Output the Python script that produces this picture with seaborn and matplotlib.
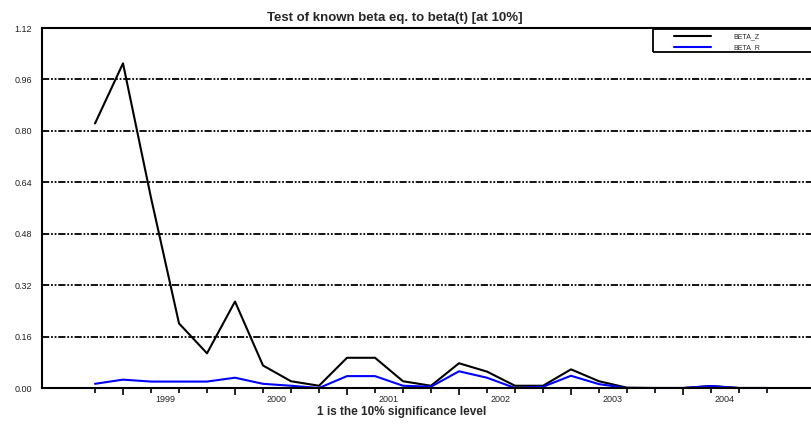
import numpy as np
import pandas as pd
import matplotlib
matplotlib.use("Agg")
import matplotlib.pyplot as plt
import seaborn as sns
from matplotlib.patches import Rectangle
from matplotlib.ticker import FixedLocator, FormatStrFormatter

# quarterly observations, 1998Q4 .. 2004Q4
quarters = ["1998Q4"] + [f"{y}Q{q}" for y in range(1999, 2005) for q in range(1, 5)]
years = ["1999", "2000", "2001", "2002", "2003", "2004"]

beta_z = [0.823, 1.010, 0.592, 0.201, 0.108, 0.269, 0.070, 0.021, 0.007,
          0.094, 0.094, 0.021, 0.007, 0.077, 0.051, 0.007, 0.007, 0.058,
          0.021, 0.001, 0.000, 0.000, 0.006, 0.000, 0.000]
beta_r = [0.013, 0.026, 0.020, 0.020, 0.020, 0.032, 0.013, 0.007, 0.000,
          0.037, 0.037, 0.007, 0.004, 0.052, 0.032, 0.000, 0.004, 0.038,
          0.012, 0.000, 0.000, 0.000, 0.006, 0.000, 0.000]

yticks = [0.00, 0.16, 0.32, 0.48, 0.64, 0.80, 0.96, 1.12]

df = pd.DataFrame({"quarter": quarters, "BETA_Z": beta_z, "BETA_R": beta_r})
df["t"] = np.arange(len(df))
long_df = df.melt(id_vars=["quarter", "t"], value_vars=["BETA_Z", "BETA_R"],
                  var_name="series", value_name="value")

sns.set_theme(style="white")
plt.rcParams["font.family"] = ["Liberation Sans", "DejaVu Sans"]

W, H = 811, 424
fig = plt.figure(figsize=(W / 100, H / 100), dpi=100)
ax = fig.add_axes([42 / W, (H - 388) / H, (815 - 42) / W, 360 / H])

sns.lineplot(data=long_df, x="t", y="value", hue="series",
             palette={"BETA_Z": "black", "BETA_R": "#0000ff"},
             linewidth=1.5, ax=ax, legend=False)

ax.set_xlim(-53 / 28, 720 / 28)
ax.set_ylim(0, 1.12)

# horizontal dash-dot-dot grid
ax.yaxis.set_major_locator(FixedLocator(yticks))
ax.yaxis.set_major_formatter(FormatStrFormatter("%.2f"))
for v in yticks[1:-1]:
    ax.axhline(v, color="black", lw=1.3, ls=(0, (4, 1, 1, 1, 1, 1)), zorder=0)
ax.tick_params(axis="y", length=0, pad=7, labelsize=6.5, labelcolor="#222222")

# quarter ticks: longer at Q1
t = df["t"].to_numpy()
q1 = [i for i, q in enumerate(quarters) if q.endswith("Q1")]
other = [i for i in t if i not in q1]
ax.xaxis.set_major_locator(FixedLocator(q1))
ax.xaxis.set_minor_locator(FixedLocator(other))
ax.set_xticklabels([])
ax.tick_params(axis="x", which="major", direction="out", length=5, width=1.2,
               color="black", bottom=True)
ax.tick_params(axis="x", which="minor", direction="out", length=3.5, width=1.2,
               color="black", bottom=True)
xt = ax.get_xaxis_transform()
for yr in years:
    idx = [i for i, q in enumerate(quarters) if q.startswith(yr)]
    ax.text(np.mean(idx), -0.02, yr, transform=xt, ha="center", va="top",
            fontsize=6.5, color="#222222")

ax.set_xlabel("")
ax.set_ylabel("")
for side in ["left", "bottom", "top"]:
    ax.spines[side].set_color("black")
    ax.spines[side].set_linewidth(1.5)
ax.spines["right"].set_visible(False)

fig.text(395 / W, 1 - 18 / H, "Test of known beta eq. to beta(t) [at 10%]",
         ha="center", va="center", fontsize=9.5, fontweight="bold")
fig.text(402 / W, 1 - 412 / H, "1 is the 10% significance level",
         ha="center", va="center", fontsize=8.5, fontweight="bold")

# legend with a square box running off the right edge
fig.patches.append(Rectangle((653 / W, 1 - 52 / H), 180 / W, 23 / H,
                             transform=fig.transFigure, fill=False,
                             edgecolor="black", lw=1.3))
handles = [plt.Line2D([], [], color="black", lw=1.5),
           plt.Line2D([], [], color="#0000ff", lw=1.5)]
fig.legend(handles, ["BETA_Z", "BETA_R"], loc="upper left",
           bbox_to_anchor=(673 / W, 1 - 32 / H), frameon=False,
           fontsize=5, handlelength=5.2, handletextpad=3.3,
           labelspacing=0.55, borderpad=0.2, borderaxespad=0)

fig.savefig("out.png", dpi=100)
